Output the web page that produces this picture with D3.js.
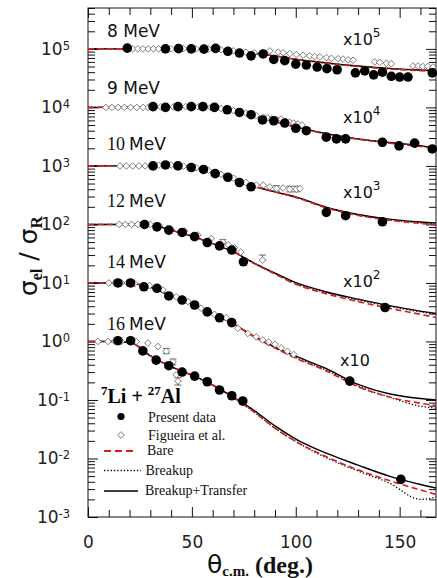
<!DOCTYPE html>
<html>
<head>
<meta charset="utf-8">
<script src="https://cdn.jsdelivr.net/npm/d3@7"></script>
<style>
body { margin: 0; background: white; }
</style>
</head>
<body>
<div class="canvas"></div>
<script>
var width = 437;
var height = 578;

// energies, scale factors and labels
var energies = ["8", "9", "10", "12", "14", "16"];
var serifNumber = [false, false, true, true, true, true];
var factors = [1e5, 1e4, 1e3, 1e2, 10, 1];
var factorExp = ["5", "4", "3", "2", "", null];

// theory curves (sigma_el / sigma_R, unscaled)
var thetaGrid = [0, 10, 20, 30, 40, 50, 60, 70, 80, 90, 100, 115, 130, 145, 160, 168];
var bare = [
    [1, 1, 1, 1, 1.01, 1.01, 0.98, 0.92, 0.84, 0.76, 0.66, 0.57, 0.50, 0.455, 0.425, 0.415],
    [1, 1, 1, 1.01, 1.02, 1.02, 0.99, 0.88, 0.71, 0.57, 0.46, 0.35, 0.285, 0.245, 0.215, 0.195],
    [1, 1, 1, 1.01, 1.02, 0.95, 0.78, 0.59, 0.45, 0.36, 0.29, 0.19, 0.143, 0.118, 0.104, 0.099],
    [1, 1, 1, 0.98, 0.80, 0.63, 0.47, 0.34, 0.215, 0.142, 0.095, 0.065, 0.048, 0.037, 0.029, 0.0255],
    [1, 1, 0.99, 0.84, 0.60, 0.44, 0.30, 0.20, 0.12, 0.077, 0.052, 0.031, 0.0168, 0.0112, 0.0088, 0.0080],
    [1, 1, 0.97, 0.57, 0.37, 0.265, 0.18, 0.11, 0.062, 0.033, 0.0195, 0.0106, 0.0064, 0.0042, 0.0029, 0.0024]
];
var breakup = [
    [1, 1, 1, 1, 1.01, 1.01, 0.98, 0.92, 0.84, 0.76, 0.66, 0.57, 0.505, 0.46, 0.43, 0.42],
    [1, 1, 1, 1.01, 1.02, 1.02, 0.99, 0.88, 0.71, 0.57, 0.46, 0.35, 0.287, 0.248, 0.218, 0.197],
    [1, 1, 1, 1.01, 1.02, 0.95, 0.78, 0.59, 0.45, 0.36, 0.29, 0.192, 0.145, 0.12, 0.106, 0.101],
    [1, 1, 1, 0.98, 0.80, 0.63, 0.47, 0.34, 0.215, 0.144, 0.098, 0.068, 0.051, 0.040, 0.032, 0.029],
    [1, 1, 0.99, 0.84, 0.60, 0.44, 0.30, 0.20, 0.12, 0.078, 0.053, 0.032, 0.0172, 0.0112, 0.0078, 0.0072],
    [1, 1, 0.97, 0.57, 0.37, 0.265, 0.18, 0.11, 0.062, 0.033, 0.0195, 0.0102, 0.0061, 0.0038, 0.0020, 0.0022]
];
var breakupTransfer = [
    [1, 1, 1, 1, 1.01, 1.01, 0.98, 0.92, 0.84, 0.76, 0.665, 0.575, 0.51, 0.465, 0.435, 0.425],
    [1, 1, 1, 1.01, 1.02, 1.02, 0.99, 0.88, 0.71, 0.57, 0.465, 0.355, 0.29, 0.252, 0.222, 0.20],
    [1, 1, 1, 1.01, 1.02, 0.95, 0.78, 0.59, 0.45, 0.36, 0.295, 0.195, 0.148, 0.123, 0.110, 0.106],
    [1, 1, 1, 0.98, 0.80, 0.63, 0.47, 0.34, 0.218, 0.147, 0.101, 0.070, 0.053, 0.041, 0.033, 0.030],
    [1, 1, 0.99, 0.84, 0.60, 0.44, 0.30, 0.20, 0.122, 0.080, 0.056, 0.034, 0.0185, 0.0128, 0.0106, 0.0100],
    [1, 1, 0.97, 0.57, 0.37, 0.265, 0.18, 0.112, 0.066, 0.036, 0.0215, 0.0122, 0.0077, 0.0050, 0.0036, 0.0031]
];

// present data [theta, ratio]
var present = [
    [[18.9, 1.03], [37.3, 1.0], [43.6, 1.01], [49.7, 1.0], [55.8, 0.99], [61.4, 1.02], [67.3, 0.91], [72.9, 0.85], [78.5, 0.76], [84.3, 0.82], [89.4, 0.66], [94.7, 0.63], [100, 0.55], [105.1, 0.53], [110.3, 0.49], [115, 0.46], [119.9, 0.44], [128.7, 0.39], [133.2, 0.42], [137.5, 0.36], [141.7, 0.40], [146, 0.34], [150, 0.33], [154, 0.33], [165.7, 0.39]],
    [[31.3, 1.03], [37.3, 1.0], [43.3, 1.03], [49.7, 1.03], [55.3, 1.03], [60.9, 1.0], [67, 0.91], [72.9, 0.82], [78.5, 0.75], [84, 0.61], [89.4, 0.59], [94.7, 0.54], [100, 0.44], [105.1, 0.40], [114.7, 0.31], [119.6, 0.29], [124, 0.29], [141.7, 0.254], [149.7, 0.22], [157.2, 0.245], [165.7, 0.195]],
    [[31.3, 1.0], [37.3, 1.04], [43.3, 1.0], [49.7, 0.94], [55.6, 0.87], [61.2, 0.74], [67.3, 0.64], [72.9, 0.52], [78.5, 0.44], [114.7, 0.161], [124, 0.141], [141.7, 0.111]],
    [[27.2, 1.0], [33.2, 0.91], [38.9, 0.80], [45.3, 0.73], [51.3, 0.62], [57.4, 0.49], [63.3, 0.43], [69.2, 0.365], [74.8, 0.23], [143, 0.038]],
    [[14.4, 1.0], [20.5, 1.0], [26.9, 0.86], [33.2, 0.81], [38.9, 0.60], [45.3, 0.51], [51.3, 0.42], [57.4, 0.32], [63.3, 0.254], [69.2, 0.21], [126, 0.021]],
    [[14.4, 1.03], [20.5, 1.03], [26.4, 0.69], [32.8, 0.48], [38.9, 0.385], [45.3, 0.30], [51.3, 0.256], [57.4, 0.205], [63.3, 0.148], [69.2, 0.118], [74.5, 0.096], [150.6, 0.0044]]
];

// Figueira et al. [theta, ratio]
var figueira = [
    [[21.6, 1.0], [24, 1.0], [26.5, 1.0], [29, 1.0], [31.5, 1.0], [34, 1.0], [40, 1.0], [46, 1.01], [52, 1.0], [58, 1.0], [64, 0.97], [70, 0.93], [76, 0.88], [80, 0.86], [84, 0.86], [87.5, 0.92], [91.5, 0.88], [93.9, 0.86], [97.1, 0.83], [100.3, 0.80], [103.5, 0.78], [106.7, 0.76], [109.1, 0.74], [111.6, 0.73], [114.8, 0.71], [117.2, 0.69], [120.4, 0.68], [122.8, 0.67], [125.2, 0.65], [127.6, 0.64], [138, 0.60], [140.4, 0.59], [143.6, 0.57], [146, 0.56], [156.4, 0.51], [158.8, 0.51], [161.2, 0.50], [163.6, 0.50], [166, 0.49]],
    [[8.6, 1.0], [11.5, 1.0], [14.5, 1.0], [17.5, 1.0], [20.5, 1.0], [23.5, 1.0], [26.5, 1.0], [29, 1.0], [35, 1.02], [41, 1.02], [47, 1.03], [53, 1.02], [59, 1.0], [64, 0.96], [70, 0.88], [76, 0.80], [81, 0.72], [84.5, 0.68], [86.5, 0.66], [88.5, 0.64], [91, 0.62], [93, 0.63], [95, 0.58], [97, 0.56], [99, 0.54], [101, 0.52], [103, 0.50]],
    [[15.4, 1.0], [18.5, 1.0], [21.5, 1.0], [24.5, 1.0], [27.5, 1.0], [34, 1.03], [40, 1.04], [46, 0.99], [52, 0.93], [58, 0.84], [64, 0.72], [70, 0.62], [76, 0.52], [81, 0.47], [84.3, 0.47], [87.5, 0.44], [90.7, 0.41], [93.9, 0.42], [97.1, 0.40], [100.3, 0.40], [102, 0.41]],
    [[15, 1.0], [18, 1.0], [21, 1.0], [24, 1.0], [30, 1.0], [34.5, 0.95], [40, 0.83], [46.5, 0.77], [52.9, 0.66], [59.3, 0.57], [64.9, 0.50], [67.5, 0.45], [70.5, 0.40], [73.5, 0.34], [84, 0.245]],
    [[10, 1.0], [13, 1.0], [16, 1.0], [19, 1.0], [22.4, 0.98], [29.6, 0.90], [36.1, 0.76], [42.5, 0.58], [48.1, 0.48], [54.5, 0.37], [60.9, 0.29], [66.5, 0.255], [72.1, 0.168], [76.9, 0.137], [80.9, 0.12], [84.1, 0.106], [87, 0.098], [90, 0.089], [93, 0.078], [96, 0.068], [99, 0.06]],
    [[4.8, 1.0], [9.6, 1.0], [13, 1.0], [16, 1.0], [23.2, 1.0], [28.8, 0.94], [33.7, 0.82], [37.7, 0.68], [40.9, 0.45], [42.5, 0.27], [43.3, 0.21]]
];

// error bars [set, theta, low, high]
var errorBars = [
    [2, 90.7, 0.37, 0.46], [2, 97.1, 0.36, 0.45], [2, 100.3, 0.36, 0.45], [2, 141.7, 0.099, 0.124],
    [3, 84, 0.245, 0.30], [3, 64.9, 0.46, 0.55], [3, 143, 0.034, 0.042],
    [5, 37.7, 0.62, 0.76], [5, 40.9, 0.40, 0.50], [5, 43.3, 0.18, 0.24]
];

var xTicksMajor = [0, 50, 100, 150];
var yDecades = [1e-3, 1e-2, 1e-1, 1e0, 1e1, 1e2, 1e3, 1e4, 1e5];

var red = "#e3191c";

var svg = d3.select(".canvas").append("svg")
    .attr("width", width)
    .attr("height", height)
    .style("background", "white")
    .style("display", "block");

var plot = { left: 88, right: 436, top: 8, bottom: 517 };

var x = d3.scaleLinear().domain([0, 167.5]).range([plot.left, plot.right]);
var y = d3.scaleLog().domain([1e-3, 5e5]).range([plot.bottom, plot.top]);

var xMinor = d3.range(0, 168, 10).filter(v => v % 50 != 0);
var yMinor = [];
yDecades.forEach(d => {
    for (var k = 2; k <= 9; k++) {
        if (k * d <= 5e5) yMinor.push(k * d);
    }
});

svg.append("clipPath").attr("id", "clip")
    .append("rect")
    .attr("x", plot.left).attr("y", plot.top)
    .attr("width", plot.right - plot.left).attr("height", plot.bottom - plot.top);

// axes
function styleAxis(g) {
    g.select(".domain").remove();
    g.selectAll("line").attr("stroke", "#111").attr("stroke-width", 1);
}

svg.append("g").attr("transform", `translate(0,${plot.bottom})`)
    .call(d3.axisBottom(x).tickValues(xMinor).tickSize(-7).tickFormat(""))
    .call(styleAxis);
svg.append("g").attr("transform", `translate(0,${plot.bottom})`)
    .call(d3.axisBottom(x).tickValues(xTicksMajor).tickSize(-10).tickPadding(19).tickFormat(d3.format("d")))
    .call(styleAxis)
    .selectAll("text")
    .attr("font-family", "DejaVu Sans")
    .attr("font-size", 17)
    .attr("fill", "#222");

svg.append("g").attr("transform", `translate(0,${plot.top})`)
    .call(d3.axisTop(x).tickValues(xMinor).tickSize(-7).tickFormat(""))
    .call(styleAxis);
svg.append("g").attr("transform", `translate(0,${plot.top})`)
    .call(d3.axisTop(x).tickValues(xTicksMajor).tickSize(-10).tickFormat(""))
    .call(styleAxis);

svg.append("g").attr("transform", `translate(${plot.left},0)`)
    .call(d3.axisLeft(y).tickValues(yMinor).tickSize(-7).tickFormat(""))
    .call(styleAxis);
svg.append("g").attr("transform", `translate(${plot.left},0)`)
    .call(d3.axisLeft(y).tickValues(yDecades).tickSize(-10).tickPadding(18))
    .call(styleAxis)
    .selectAll("text")
    .attr("font-family", "DejaVu Sans")
    .attr("font-size", 17)
    .attr("fill", "#222")
    .each(function (d) {
        var t = d3.select(this);
        t.text("");
        t.append("tspan").text("10");
        t.append("tspan").attr("dy", "-0.45em").attr("font-size", 11.5).text(Math.round(Math.log10(d)));
    });

svg.append("g").attr("transform", `translate(${plot.right},0)`)
    .call(d3.axisRight(y).tickValues(yMinor).tickSize(-7).tickFormat(""))
    .call(styleAxis);
svg.append("g").attr("transform", `translate(${plot.right},0)`)
    .call(d3.axisRight(y).tickValues(yDecades).tickSize(-10).tickFormat(""))
    .call(styleAxis);

svg.append("rect")
    .attr("x", plot.left).attr("y", plot.top)
    .attr("width", plot.right - plot.left).attr("height", plot.bottom - plot.top)
    .attr("fill", "none").attr("stroke", "#111").attr("stroke-width", 1);

// curves
var line = d3.line()
    .x(d => x(d[0]))
    .y(d => y(d[1]))
    .curve(d3.curveMonotoneX);

var curves = svg.append("g").attr("clip-path", "url(#clip)");

function series(values, i) {
    return thetaGrid.map((t, j) => [t, values[j] * factors[i]]);
}

breakupTransfer.forEach((v, i) => {
    curves.append("path").attr("d", line(series(v, i)))
        .attr("fill", "none").attr("stroke", "#000").attr("stroke-width", 1.4);
});
breakup.forEach((v, i) => {
    curves.append("path").attr("d", line(series(v, i)))
        .attr("fill", "none").attr("stroke", "#000").attr("stroke-width", 1.3)
        .attr("stroke-dasharray", "1.3,2");
});
bare.forEach((v, i) => {
    curves.append("path").attr("d", line(series(v, i)))
        .attr("fill", "none").attr("stroke", red).attr("stroke-width", 1.6)
        .attr("stroke-dasharray", "6,3.5");
});

// error bars
var errG = svg.append("g").attr("stroke", "#555").attr("stroke-width", 0.9);
errorBars.forEach(e => {
    var f = factors[e[0]];
    var cx = x(e[1]);
    errG.append("line").attr("x1", cx).attr("x2", cx).attr("y1", y(e[2] * f)).attr("y2", y(e[3] * f));
    errG.append("line").attr("x1", cx - 3.5).attr("x2", cx + 3.5).attr("y1", y(e[2] * f)).attr("y2", y(e[2] * f));
    errG.append("line").attr("x1", cx - 3.5).attr("x2", cx + 3.5).attr("y1", y(e[3] * f)).attr("y2", y(e[3] * f));
});

// data points
var diamond = d3.symbol().type(d3.symbolSquare).size(22);

figueira.forEach((set, i) => {
    svg.append("g").selectAll("path")
        .data(set)
        .enter()
        .append("path")
        .attr("d", diamond)
        .attr("transform", d => `translate(${x(d[0])},${y(d[1] * factors[i])}) rotate(45)`)
        .attr("fill", "white")
        .attr("stroke", "#666")
        .attr("stroke-width", 0.8);
});

present.forEach((set, i) => {
    svg.append("g").selectAll("circle")
        .data(set)
        .enter()
        .append("circle")
        .attr("cx", d => x(d[0]))
        .attr("cy", d => y(d[1] * factors[i]))
        .attr("r", 4.8)
        .attr("fill", "#000");
});

// energy labels
var labelY = [37, 94, 150, 207, 268, 330];
energies.forEach((e, i) => {
    var t = svg.append("text")
        .attr("x", 107)
        .attr("y", labelY[i])
        .attr("font-size", 17)
        .attr("fill", "#111");
    t.append("tspan")
        .attr("font-family", serifNumber[i] ? "Liberation Serif" : "DejaVu Sans")
        .attr("font-size", serifNumber[i] ? 18 : 17)
        .text(e);
    t.append("tspan")
        .attr("font-family", "DejaVu Sans")
        .attr("dx", serifNumber[i] ? 4 : 0)
        .text(serifNumber[i] ? "MeV" : " MeV");
});

// scale factor labels
var factorY = [45, 123, 198, 287, 366];
factorExp.forEach((p, i) => {
    if (p === null) return;
    var t = svg.append("text")
        .attr("x", i == 4 ? 340 : 343)
        .attr("y", factorY[i])
        .attr("font-family", "DejaVu Sans")
        .attr("font-size", 16)
        .attr("fill", "#111");
    t.append("tspan").text("x10");
    if (p) t.append("tspan").attr("dy", -8).attr("font-size", 12).text(p);
});

// reaction label and legend
var reac = svg.append("text")
    .attr("x", 101).attr("y", 403)
    .attr("font-family", "Liberation Serif")
    .attr("font-weight", "bold")
    .attr("font-size", 20)
    .attr("fill", "#000");
reac.append("tspan").attr("font-size", 13).attr("dy", -8).text("7");
reac.append("tspan").attr("dy", 8).text("Li + ");
reac.append("tspan").attr("font-size", 13).attr("dy", -8).text("27");
reac.append("tspan").attr("dy", 8).text("Al");

var legend = svg.append("g")
    .attr("font-family", "Liberation Serif")
    .attr("font-size", 14)
    .attr("fill", "#111");

legend.append("circle").attr("cx", 121).attr("cy", 416.5).attr("r", 3.6).attr("fill", "#000");
legend.append("text").attr("x", 148).attr("y", 421.5).text("Present data");

legend.append("path").attr("d", diamond)
    .attr("transform", "translate(121,435) rotate(45)")
    .attr("fill", "white").attr("stroke", "#666").attr("stroke-width", 0.8);
legend.append("text").attr("x", 148).attr("y", 440).text("Figueira et al.");

legend.append("line").attr("x1", 104).attr("x2", 137).attr("y1", 451).attr("y2", 451)
    .attr("stroke", red).attr("stroke-width", 1.8).attr("stroke-dasharray", "7,4");
legend.append("text").attr("x", 147).attr("y", 455).text("Bare");

legend.append("line").attr("x1", 104).attr("x2", 141).attr("y1", 470.5).attr("y2", 470.5)
    .attr("stroke", "#000").attr("stroke-width", 1.3).attr("stroke-dasharray", "1.3,2");
legend.append("text").attr("x", 145.5).attr("y", 475).text("Breakup");

legend.append("line").attr("x1", 104).attr("x2", 138).attr("y1", 491).attr("y2", 491)
    .attr("stroke", "#000").attr("stroke-width", 1.4);
legend.append("text").attr("x", 145).attr("y", 494.5).text("Breakup+Transfer");

// axis titles
var xt = svg.append("text")
    .attr("x", 207).attr("y", 573)
    .attr("fill", "#111");
xt.append("tspan").attr("font-family", "DejaVu Sans").attr("font-size", 25).text("θ");
xt.append("tspan").attr("font-family", "Liberation Serif").attr("font-weight", "bold")
    .attr("font-size", 15).attr("dy", 3).text("c.m.");
xt.append("tspan").attr("font-family", "Liberation Serif").attr("font-weight", "bold")
    .attr("font-size", 24).attr("dy", -3).attr("dx", 6).text("(deg.)");

var yt = svg.append("text")
    .attr("transform", "translate(37,296) rotate(-90)")
    .attr("fill", "#111");
yt.append("tspan").attr("font-family", "DejaVu Sans").attr("font-size", 25).text("σ");
yt.append("tspan").attr("font-family", "Liberation Serif").attr("font-weight", "bold")
    .attr("font-size", 16).attr("dy", 5).text("el");
yt.append("tspan").attr("font-family", "DejaVu Sans").attr("font-size", 25).attr("dy", -5).text(" / σ");
yt.append("tspan").attr("font-family", "Liberation Serif").attr("font-weight", "bold")
    .attr("font-size", 17).attr("dy", 5).text("R");
</script>
</body>
</html>
